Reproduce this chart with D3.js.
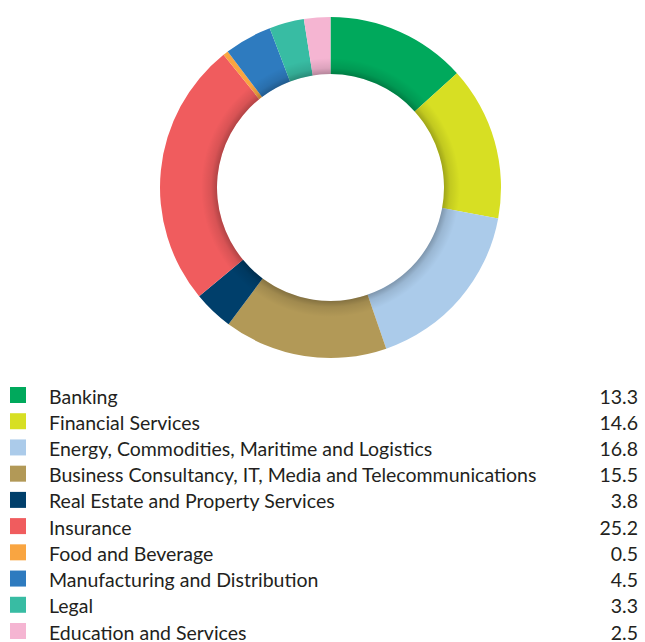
<!DOCTYPE html>
<html>
<head>
<meta charset="utf-8">
<script src="https://cdn.jsdelivr.net/npm/d3@7"></script>
<style>
  html, body { margin: 0; padding: 0; background: #fff; }
  svg { display: block; }
  text { font-family: Lato, "Noto Sans", sans-serif; fill: #231f20; }
</style>
</head>
<body>
<svg id="chart" width="645" height="642"></svg>
<script>
// Sector breakdown (%)
const categories = [
  "Banking",
  "Financial Services",
  "Energy, Commodities, Maritime and Logistics",
  "Business Consultancy, IT, Media and Telecommunications",
  "Real Estate and Property Services",
  "Insurance",
  "Food and Beverage",
  "Manufacturing and Distribution",
  "Legal",
  "Education and Services"
];
const values = [13.3, 14.6, 16.8, 15.5, 3.8, 25.2, 0.5, 4.5, 3.3, 2.5];
const valueLabels = ["13.3", "14.6", "16.8", "15.5", "3.8", "25.2", "0.5", "4.5", "3.3", "2.5"];
const colors = ["#00a95c", "#d7df23", "#abcbea", "#b29957", "#003f6b",
                "#f05c5e", "#f9a541", "#2e7bbf", "#38bca3", "#f5b5d2"];

const svg = d3.select("#chart");
const cx = 330.5, cy = 187.5, rOuter = 170.5, rInner = 113.5;

const color = d3.scaleOrdinal().domain(categories).range(colors);
const pie = d3.pie().sort(null).value(d => d.value);
const arc = d3.arc().innerRadius(rInner).outerRadius(rOuter);
const data = categories.map((c, i) => ({ name: c, value: values[i], label: valueLabels[i] }));

const defs = svg.append("defs");
const grad = defs.append("radialGradient")
  .attr("id", "innerShade")
  .attr("gradientUnits", "userSpaceOnUse")
  .attr("cx", 0).attr("cy", 0).attr("r", rOuter);
grad.append("stop").attr("offset", rInner / rOuter).attr("stop-color", "#000").attr("stop-opacity", 0.26);
grad.append("stop").attr("offset", (rInner + 6) / rOuter).attr("stop-color", "#000").attr("stop-opacity", 0.1);
grad.append("stop").attr("offset", (rInner + 16) / rOuter).attr("stop-color", "#000").attr("stop-opacity", 0);
grad.append("stop").attr("offset", 1).attr("stop-color", "#000").attr("stop-opacity", 0);

const ring = svg.append("g").attr("transform", `translate(${cx},${cy})`);
ring.selectAll("path.slice")
  .data(pie(data))
  .join("path")
  .attr("class", "slice")
  .attr("d", arc)
  .attr("fill", d => color(d.data.name));

// soft shading along the inner edge of the ring
ring.append("path")
  .attr("d", d3.arc().innerRadius(rInner).outerRadius(rOuter).startAngle(0).endAngle(2 * Math.PI)())
  .attr("fill", "url(#innerShade)");

// Legend
const rowY = d3.scaleLinear().domain([0, 9]).range([395, 631]);
const legend = svg.append("g");
const rows = legend.selectAll("g.row")
  .data(data)
  .join("g")
  .attr("class", "row")
  .attr("transform", (d, i) => `translate(0,${rowY(i)})`);
rows.append("rect")
  .attr("x", 10).attr("y", -8).attr("width", 16).attr("height", 16)
  .attr("fill", d => color(d.name));
rows.append("text")
  .attr("x", 49).attr("y", 8.5)
  .attr("font-size", 19.5)
  .text(d => d.name);
rows.append("text")
  .attr("x", 638).attr("y", 8.5)
  .attr("text-anchor", "end")
  .attr("font-size", 19.5)
  .text(d => d.label);
</script>
</body>
</html>
